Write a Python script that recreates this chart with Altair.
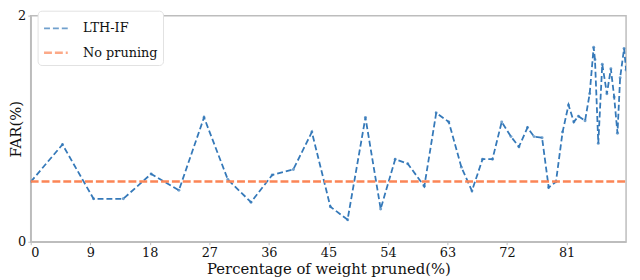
import altair as alt
import pandas as pd

# Percentage of weight pruned (%) and FAR (%) for LTH-IF
pruned = [0, 4.8, 9.5, 14, 18.2, 22.4, 26.2, 29.8, 33.3, 36.5, 39.7, 42.5, 45.3, 47.9,
          50.6, 52.9, 55.1, 57.0, 59.5, 61.3, 63.2, 65.1, 66.7, 68.3, 69.8, 71.2, 72.6,
          73.8, 75.1, 76.1, 77.3, 78.3, 79.4, 80.4, 81.3, 82.1, 82.8, 83.8, 84.5, 85.1,
          85.3, 85.8, 86.4, 87.1, 87.7, 88.2, 88.7, 89.1, 89.7, 90]
far = [0.53, 0.86, 0.38, 0.38, 0.60, 0.455, 1.10, 0.55, 0.35, 0.59, 0.64, 0.97, 0.31, 0.195,
       1.10, 0.29, 0.73, 0.69, 0.49, 1.14, 1.06, 0.66, 0.45, 0.73, 0.73, 1.06, 0.93,
       0.84, 1.01, 0.93, 0.92, 0.48, 0.53, 0.97, 1.21, 1.06, 1.11, 1.07, 1.31, 1.72,
       1.61, 0.87, 1.57, 1.31, 1.53, 1.28, 0.96, 1.45, 1.71, 1.52]

# No pruning baseline
baseline_x = [0, 90]
baseline_far = [0.532, 0.532]

series = ["LTH-IF", "No pruning"]
colors = ["#3579b9", "#fb8556"]
dashes = [[6, 3], [8, 3]]
widths = [1.8, 2.5]
x_ticks = [0, 9, 18, 27, 36, 45, 54, 63, 72, 81]
y_ticks = [0, 2]

df_lth = pd.DataFrame({"x": pruned, "y": far, "s": series[0], "o": range(len(pruned))})
df_base = pd.DataFrame({"x": baseline_x, "y": baseline_far, "s": series[1],
                        "o": range(len(baseline_x))})

FONT = "DejaVu Serif"

xenc = alt.X("x:Q", scale=alt.Scale(domain=[0, 90], nice=False),
             axis=alt.Axis(values=x_ticks, title="Percentage of weight pruned(%)", format="d",
                           labelFontSize=13, titleFontSize=15, labelPadding=2,
                           titleY=32, titleBaseline="alphabetic"))
yenc = alt.Y("y:Q", scale=alt.Scale(domain=[0, 2], nice=False),
             axis=alt.Axis(values=y_ticks, title="FAR(%)", labelFontSize=13, format="d",
                           titleFontSize=15, labelPadding=2, titleX=-15, titleY=114.5,
                           titleAngle=270, titleAlign="center", titleBaseline="middle"))

legend = alt.Legend(title=None, orient="none", legendX=7, legendY=-5,
                    symbolType="stroke", symbolSize=576,
                    labelFontSize=13, labelFont=FONT, labelOffset=14,
                    rowPadding=4, padding=5, fillColor="white",
                    strokeColor="#e2e2e2", cornerRadius=4, labelColor="#111")

color = alt.Color("s:N", scale=alt.Scale(domain=series, range=colors), legend=legend)
dash = alt.StrokeDash("s:N", scale=alt.Scale(domain=series, range=dashes), legend=legend)
width = alt.StrokeWidth("s:N", scale=alt.Scale(domain=series, range=widths), legend=legend)

lth_line = alt.Chart(df_lth).mark_line(clip=True).encode(
    x=xenc, y=yenc, color=color, strokeDash=dash, strokeWidth=width, order="o:Q")

pts = alt.Chart(df_lth).mark_point(filled=True, size=9, shape="circle", clip=True).encode(
    x="x:Q", y="y:Q", color=color)

base_line = alt.Chart(df_base).mark_line(clip=True).encode(
    x="x:Q", y="y:Q", color=color, strokeDash=dash, strokeWidth=width, order="o:Q")

chart = alt.layer(lth_line, pts, base_line).properties(
    width=603, height=229,
    autosize=alt.AutoSizeParams(type="none"),
    padding={"left": 23, "top": 6, "right": 6, "bottom": 37},
).configure(font=FONT).configure_axis(
    domainColor="#bdbdbd", domainWidth=1.5, tickColor="#bdbdbd", tickSize=3,
    grid=False, labelFont=FONT, titleFont=FONT, labelColor="#111", titleColor="#111",
    titleFontWeight="normal",
).configure_view(stroke="#bdbdbd", strokeWidth=1.5)

chart.save("out.html", embed_options={"renderer": "svg", "actions": False})
